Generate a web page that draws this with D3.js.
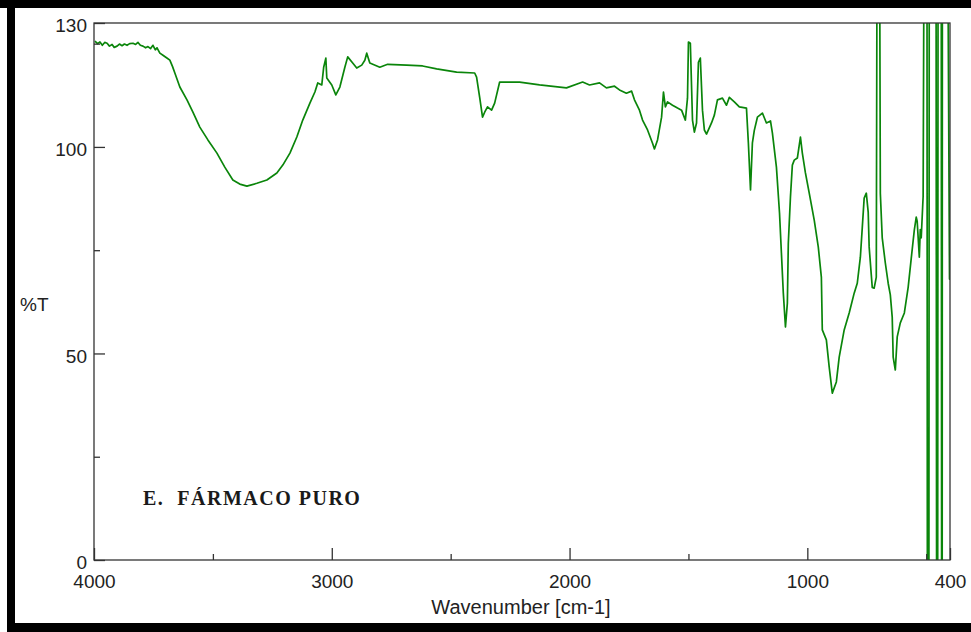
<!DOCTYPE html>
<html>
<head>
<meta charset="utf-8">
<script src="https://cdn.jsdelivr.net/npm/d3@7"></script>
<style>
body { margin: 0; background: #fff; }
</style>
</head>
<body>
<div id="chart"></div>
<script>
// spectrum (wavenumber cm-1, %T)
var wavenumbers = [3996, 3985, 3975, 3965, 3955, 3945, 3935, 3924, 3915, 3903, 3893, 3882, 3872, 3861, 3850, 3836,
    3825, 3815, 3805, 3794, 3783, 3773, 3762, 3752, 3742, 3735, 3723, 3710, 3695, 3681, 3670, 3660, 3639, 3609,
    3584, 3555, 3521, 3483, 3450, 3416, 3387, 3357, 3315, 3273, 3231, 3206, 3176, 3147, 3122, 3092, 3071, 3059,
    3042, 3034, 3025, 3021, 3000, 2983, 2966, 2945, 2933, 2912, 2895, 2874, 2861, 2853, 2840, 2798, 2765, 2685,
    2618, 2559, 2475, 2399, 2391, 2378, 2366, 2357, 2345, 2328, 2315, 2294, 2210, 2126, 2013, 1945, 1916, 1874,
    1845, 1811, 1790, 1761, 1739, 1727, 1706, 1693, 1672, 1651, 1643, 1630, 1613, 1605, 1597, 1588, 1567, 1546,
    1529, 1513, 1504, 1500, 1492, 1483, 1475, 1466, 1458, 1450, 1441, 1433, 1424, 1403, 1391, 1378, 1357, 1340,
    1328, 1307, 1286, 1256, 1248, 1239, 1231, 1223, 1210, 1189, 1172, 1155, 1147, 1130, 1117, 1109, 1101, 1092,
    1084, 1080, 1071, 1063, 1055, 1042, 1029, 1021, 1008, 992, 971, 954, 941, 937, 920, 908, 895, 878, 866, 845,
    824, 803, 790, 777, 769, 761, 752, 744, 740, 731, 727, 719, 710, 706, 697, 693, 685, 672, 660, 651, 643, 639,
    630, 622, 609, 592, 576, 563, 550, 542, 538, 529, 525, 521, 513, 508, 497, 495, 489, 487, 459, 456, 452, 450,
    437, 435, 433, 432, 411, 404, 402, 400];
var transmittance = [125.6, 125.0, 125.4, 124.6, 125.3, 125.1, 124.4, 124.8, 124.1, 124.4, 124.9, 124.5, 124.9,
    124.6, 125.0, 125.1, 124.8, 125.3, 124.6, 124.4, 124.0, 124.3, 123.8, 124.6, 123.5, 124.0, 122.7, 122.2, 121.6,
    121.0, 119.5, 117.9, 114.5, 111.4, 108.4, 104.8, 101.7, 98.5, 95.1, 92.0, 91.0, 90.5, 91.2, 92.0, 93.7, 95.6,
    98.5, 102.4, 106.5, 110.6, 113.3, 115.5, 115.0, 119.3, 121.5, 116.7, 115.0, 112.6, 114.5, 119.3, 121.8, 120.3,
    119.1, 119.8, 121.0, 122.7, 120.3, 119.3, 120.0, 119.8, 119.6, 118.9, 118.1, 117.9, 116.9, 112.0, 107.2, 108.4,
    109.7, 108.9, 110.6, 115.7, 115.7, 115.0, 114.3, 115.7, 115.0, 115.5, 114.3, 114.7, 113.8, 113.0, 113.5, 111.4,
    108.9, 106.5, 104.1, 100.9, 99.5, 101.7, 107.2, 113.3, 109.7, 110.9, 110.1, 109.4, 108.9, 106.5, 111.8, 125.4,
    125.1, 106.5, 103.6, 105.8, 120.5, 121.5, 108.9, 104.1, 103.1, 105.8, 107.7, 111.4, 111.8, 110.1, 112.0, 110.9,
    109.7, 109.4, 101.0, 89.6, 101.0, 104.0, 107.2, 108.2, 105.8, 106.3, 103.4, 95.1, 84.0, 74.3, 64.6, 56.4, 62.2,
    76.7, 87.9, 95.6, 96.8, 97.3, 102.4, 98.5, 93.7, 88.8, 82.3, 75.8, 68.5, 55.7, 53.3, 46.7, 40.4, 43.1, 49.1,
    55.7, 59.8, 64.6, 67.0, 73.3, 80.4, 87.6, 88.8, 84.2, 75.8, 69.0, 66.0, 65.8, 68.5, 170, 170, 88.8, 78.0, 71.9,
    67.0, 64.2, 58.8, 49.1, 46.0, 54.0, 57.4, 59.8, 66.0, 73.0, 79.9, 83.0, 82.0, 73.3, 80.0, 78.0, 88.0, 170, 170,
    -30, -30, 170, 170, -30, -30, 170, 170, -30, -30, 170, 170, 90, 68, 68];

var xMajorTicks = [4000, 3000, 2000, 1000, 400],
    xMinorTicks = [3500, 2500, 1500, 500],
    yMajorTicks = [0, 50, 100, 130],
    yMinorTicks = [25, 75, 125];

var chartTitle = "E.  FÁRMACO PURO",
    xLabel = "Wavenumber [cm-1]",
    yLabel = "%T";

var width = 971,
    height = 632,
    plotLeft = 94,
    plotRight = 950,
    plotTop = 23,
    plotBottom = 560,
    axisFont = "'Liberation Sans', Arial, sans-serif",
    inkColor = "#222";

var svg = d3.select("#chart").append("svg")
    .attr("width", width)
    .attr("height", height);

// black frame of the screenshot
svg.append("rect").attr("x", 0).attr("y", 0).attr("width", width).attr("height", 8).attr("fill", "#000");
svg.append("rect").attr("x", 7).attr("y", 0).attr("width", 8).attr("height", height).attr("fill", "#000");
svg.append("rect").attr("x", 7).attr("y", 623).attr("width", width - 7).attr("height", 9).attr("fill", "#000");

var x = d3.scaleLinear().domain([4000, 400]).range([plotLeft, plotRight]);
var y = d3.scaleLinear().domain([0, 130]).range([plotBottom, plotTop]);

var spectrum = wavenumbers.map(function(w, i) {
    return { w: w, t: transmittance[i] };
});

svg.append("clipPath").attr("id", "plotclip")
    .append("rect")
    .attr("x", plotLeft).attr("y", plotTop)
    .attr("width", plotRight - plotLeft).attr("height", plotBottom - plotTop);

var line = d3.line()
    .x(function(d) { return x(d.w); })
    .y(function(d) { return y(d.t); });

svg.append("path")
    .datum(spectrum)
    .attr("clip-path", "url(#plotclip)")
    .attr("fill", "none")
    .attr("stroke", "#0a850a")
    .attr("stroke-width", 1.7)
    .attr("stroke-linejoin", "round")
    .attr("d", line);

var styleAxis = function(g) {
    g.select(".domain").remove();
    g.selectAll(".tick line").attr("stroke", "#333").attr("stroke-width", 1.3);
    g.selectAll(".tick text")
        .attr("fill", inkColor)
        .attr("font-family", axisFont)
        .attr("font-size", 19);
};

// bottom axis, ticks pointing inward
svg.append("g")
    .attr("transform", "translate(0," + plotBottom + ")")
    .call(d3.axisBottom(x).tickValues(xMajorTicks).tickSize(-12).tickSizeOuter(0).tickPadding(15).tickFormat(d3.format("d")))
    .call(styleAxis);
svg.append("g")
    .attr("transform", "translate(0," + plotBottom + ")")
    .call(d3.axisBottom(x).tickValues(xMinorTicks).tickSize(-6).tickSizeOuter(0).tickFormat(""))
    .call(styleAxis);

// left axis
svg.append("g")
    .attr("transform", "translate(" + plotLeft + ",0)")
    .call(d3.axisLeft(y).tickValues(yMajorTicks).tickSize(-11).tickSizeOuter(0).tickPadding(7).tickFormat(d3.format("d")))
    .call(styleAxis)
    .selectAll(".tick text").attr("dy", "0.45em");
svg.append("g")
    .attr("transform", "translate(" + plotLeft + ",0)")
    .call(d3.axisLeft(y).tickValues(yMinorTicks).tickSize(-6).tickSizeOuter(0).tickFormat(""))
    .call(styleAxis);

// plot box
svg.append("rect")
    .attr("x", plotLeft).attr("y", plotTop)
    .attr("width", plotRight - plotLeft).attr("height", plotBottom - plotTop)
    .attr("fill", "none")
    .attr("stroke", "#333")
    .attr("stroke-width", 1.3);

svg.append("text")
    .attr("x", (plotLeft + plotRight) / 2 - 1)
    .attr("y", 614)
    .attr("text-anchor", "middle")
    .attr("font-family", axisFont)
    .attr("font-size", 20)
    .attr("fill", inkColor)
    .text(xLabel);

svg.append("text")
    .attr("x", 20)
    .attr("y", 311)
    .attr("font-family", axisFont)
    .attr("font-size", 19)
    .attr("fill", inkColor)
    .text(yLabel);

svg.append("text")
    .attr("x", 143)
    .attr("y", 505)
    .style("white-space", "pre")
    .attr("font-family", "'Liberation Serif', 'Times New Roman', serif")
    .attr("font-weight", "bold")
    .attr("font-size", 20)
    .attr("letter-spacing", 1.5)
    .attr("fill", "#1a1a1a")
    .text(chartTitle);
</script>
</body>
</html>
